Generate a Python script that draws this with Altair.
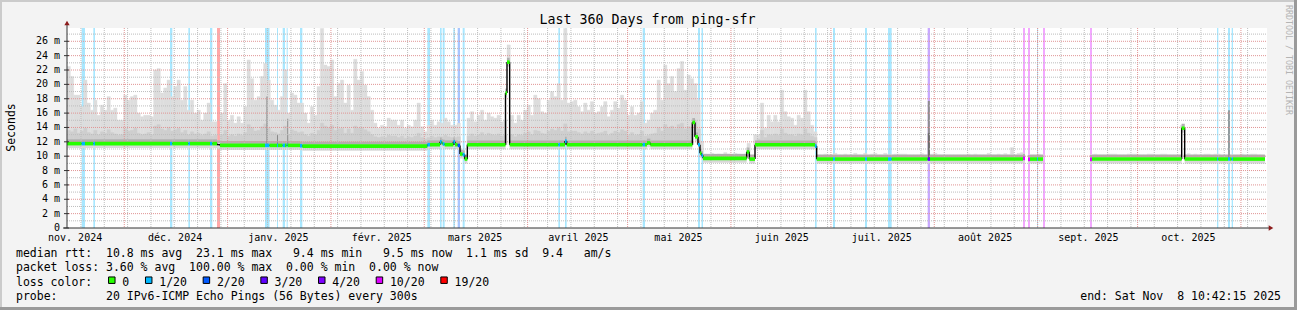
import altair as alt
import pandas as pd
from datetime import datetime, timedelta

# ------------------------------------------------------------------
# Data (x in days since the left edge of the
# 360-day window, y in milliseconds)
# ------------------------------------------------------------------
month_starts = ["2024-12-01", "2025-01-01", "2025-02-01", "2025-03-01", "2025-04-01", "2025-05-01",
                "2025-06-01", "2025-07-01", "2025-08-01", "2025-09-01", "2025-10-01", "2025-11-01"]
month_label_at = ["2024-11-16T06:00", "2024-12-16T06:00", "2025-01-16T06:00", "2025-02-16T06:00",
                  "2025-03-16T06:00", "2025-04-16T06:00", "2025-05-16T06:00", "2025-06-16T06:00",
                  "2025-07-16T06:00", "2025-08-16T06:00", "2025-09-16T06:00", "2025-10-16T06:00"]
month_labels = ["nov. 2024", "déc. 2024", "janv. 2025", "févr. 2025", "mars 2025", "avril 2025",
                "mai 2025", "juin 2025", "juil. 2025", "août 2025", "sept. 2025", "oct. 2025"]

loss_names = ["0", "1/20", "2/20", "3/20", "4/20", "10/20", "19/20"]
loss_colors = ["#26ff00", "#00b8ff", "#0059ff", "#5e00ff", "#7e00ff", "#dd00ff", "#ff0000"]

# daily maximum of the smoke (ms); None = no data
smoke_max = [
    22.5, 21.1, 18.5, 18.5, 16.9, 20.6, 17.4, 16.4, 17.8, 15.7,
    17.1, 16.4, 18.3, 16.4, 16.7, 15.0, 15.0, 18.5, 17.8, 18.3,
    18.5, 16.0, 15.5, 15.7, 15.7, 15.5, 22.0, 22.2, 18.8, 19.5,
    20.6, 18.3, 19.7, 20.6, 17.8, 19.7, 16.4, 17.8, 16.0, 16.4,
    15.0, 16.0, 17.4, 14.8, 14.8, None, 16.0, 20.1, 15.0, 15.7,
    14.6, 15.5, 14.6, 16.9, 23.4, 20.8, 17.8, 18.3, 21.1, 22.9,
    20.6, 17.8, 17.1, 16.4, 18.3, 22.0, 16.0, 18.8, 18.5, 17.4,
    17.4, 16.0, 14.6, 16.9, 15.7, 19.7, 27.8, 22.7, 22.5, 23.4,
    18.3, 20.1, 20.6, 17.4, 19.9, 16.4, 23.5, 20.6, 21.8, 19.9,
    18.3, 16.4, 14.6, 13.9, 14.3, 14.1, 15.3, 15.0, 15.0, 14.3,
    15.0, 13.9, 14.3, 14.1, 15.0, 17.4, 14.1, 13.4, 14.3, 15.0,
    14.3, 14.8, 14.6, 15.3, 14.8, 14.3, 14.3, 14.6, None, None,
    15.3, 16.2, 14.8, 15.7, 16.4, 15.0, 16.0, 15.5, 15.3, 15.7,
    14.8, 15.0, 25.5, 15.7, 14.6, 15.7, 15.0, 16.4, 17.1, 15.7,
    18.5, 18.0, 16.2, 16.0, 17.8, 19.0, 18.3, 20.1, 17.8, 27.8,
    17.4, 17.6, 17.8, 16.9, 16.2, 17.4, 16.4, 17.6, 16.0, 16.2,
    16.9, 17.6, 15.5, 16.4, 17.6, 16.7, 18.5, 17.8, 15.7, 16.9,
    15.7, 16.0, 17.6, 14.6, 15.0, 16.0, 16.4, 20.6, 17.8, 22.7,
    20.1, 21.1, 19.0, 22.2, 23.2, 19.2, 21.3, 20.8, 20.1, 17.8,
    12.0, 10.3, 10.2, 10.4, 10.2, 10.3, 10.2, 10.5, 10.3, 10.2,
    10.4, 10.3, 10.2, 10.3, 11.8, 10.2, 13.0, 13.0, 17.4, 13.9,
    15.7, 14.8, 15.7, 14.8, 19.2, 16.2, 15.5, 15.3, 14.3, 15.7,
    15.3, 19.2, 16.2, 14.3, 13.4, 10.2, 10.2, 10.3, 10.2, 10.2,
    10.4, 10.2, 10.2, 10.3, 10.2, 10.2, 10.4, 10.2, 10.2, 10.4,
    10.2, 10.3, 10.4, 10.2, 10.2, 10.4, 10.2, 10.2, 10.3, 10.3,
    10.3, 10.3, 10.2, 10.2, 10.2, 10.2, 10.35, 10.2, 10.2, 10.3,
    10.4, 10.2, 10.2, 10.2, 10.2, 10.2, 10.2, 10.2, 10.2, 10.2,
    10.3, 10.2, 10.3, 10.2, 10.2, 10.2, 10.4, 10.2, 10.2, 10.3,
    10.2, 10.35, 10.2, 11.2, 10.2, 10.4, 10.5, None, None, 10.2,
    10.2, 10.3, 10.2, None, None, None, None, None, None, None,
    None, None, None, None, None, None, None, 10.2, 10.3, 10.2,
    10.2, 10.2, 10.3, 10.3, 10.3, 10.2, 10.2, 10.2, 10.3, 10.3,
    10.3, 10.2, 10.2, 10.2, 10.3, 10.3, 10.2, 10.2, 10.3, 10.3,
    10.2, 10.2, 10.2, 10.2, 14.3, 10.2, 10.35, 10.2, 10.3, 10.2,
    10.2, 10.3, 10.3, 10.2, 10.3, 10.3, 10.2, 10.2, 10.2, 10.2,
    10.2, 10.2, 10.3, 10.2, 10.2, 10.3, 10.3, 10.2, 10.2, None,
]

# daily upper quartile of the smoke in the busy periods (ms)
smoke_q3 = [
    13.6, 13.4, 13.8, 13.2, 13.5, 13.9, 13.3, 13.1, 13.6, 13.0,
    13.4, 13.2, 13.7, 13.3, 13.1, 12.9, 13.0, 13.8, 13.5, 13.6,
    13.9, 13.2, 13.0, 13.1, 13.3, 13.0, 14.2, 14.4, 13.8, 13.6,
    14.0, 13.5, 13.7, 13.9, 13.3, 13.6, 13.0, 13.4, 13.1, 13.2,
    12.9, 13.1, 13.4, 12.8, 12.9, None, 13.0, 13.6, 12.8, 13.0,
    12.8, 13.1, 12.9, 13.3, 14.4, 14.0, 13.5, 13.6, 14.1, 14.5,
    14.0, 13.4, 13.3, 13.1, 13.6, 14.2, 13.0, 13.7, 13.5, 13.3,
    13.4, 13.0, 12.8, 13.2, 13.0, 13.6, 14.6, 14.2, 14.0, 14.3,
    13.6, 13.8, 13.9, 13.2, 13.8, 13.2, 14.2, 13.9, 14.0, 13.7,
    13.4, 13.0, 12.7, 12.6, 12.7, 12.6, 12.9, 12.8, 12.8, 12.6,
    12.8, 12.5, 12.7, 12.6, 12.8, 13.2, 12.6, 12.4, 12.6, 12.8,
    12.6, 12.7, 12.7, 12.9, 12.7, 12.6, 12.6, 12.7, None, None,
    12.8, 13.1, 12.8, 13.0, 13.3, 12.9, 13.2, 13.0, 12.9, 13.1,
    12.8, 12.9, None, 13.0, 12.7, 13.0, 12.9, 13.2, 13.4, 13.0,
    13.6, 13.5, 13.2, 13.1, 13.5, 13.8, 13.6, 14.0, 13.5, 14.5,
    13.4, 13.5, 13.5, 13.3, 13.1, 13.4, 13.2, 13.5, 13.1, 13.2,
    13.3, 13.5, 12.9, 13.2, 13.5, 13.3, 13.7, 13.5, 12.9, 13.3,
    12.9, 13.0, 13.5, 12.8, 12.9, 13.1, 13.2, 14.0, 13.5, 14.4,
    14.0, 14.2, 13.8, 14.4, 14.6, 13.8, 14.1, 14.0, 15.0, 13.8,
] + [None] * 17 + [
    12.4, 13.6, 12.6, 13.0, 12.9, 13.1, 12.9, 13.8, 13.2, 13.0,
    13.0, 12.8, 13.1, 13.0, 13.8, 13.2, 12.8, 12.6,
] + [None] * 135

# median rtt segments: start day, end day, value (ms), packet loss
med_start = [0.0, 4.4, 5.4, 7.9, 8.4, 30.9, 31.6, 36.4, 36.9, 42.9,
             43.6, 45.0, 45.9, 59.4, 60.75, 63.0, 63.3, 64.7, 65.4, 65.9,
             66.2, 69.9, 70.6, 108.1, 108.9, 111.9, 112.4, 112.7, 113.3, 115.9,
             116.4, 117.2, 117.9, 118.7, 119.3, 120.1, 131.55, 132.0, 132.8, 147.4,
             147.9, 149.4, 149.9, 172.7, 173.4, 174.0, 175.0, 187.6, 188.4, 189.3,
             189.9, 190.35, 190.8, 203.9, 204.7, 206.4, 224.4, 224.9, 229.8, 230.4,
             239.4, 240.0, 246.3, 247.4, 258.2, 258.9, 286.8, 288.3, 288.9, 291.0,
             291.3, 306.9, 307.5, 334.4, 335.3, 345.0, 345.4, 348.3, 348.9, 349.4,
             349.8]
med_end = [4.4, 5.4, 7.9, 8.4, 30.9, 31.6, 36.4, 36.9, 42.9, 43.6,
           45.0, 45.9, 59.4, 60.75, 63.0, 63.3, 64.7, 65.4, 65.9, 66.2,
           69.9, 70.6, 108.1, 108.9, 111.9, 112.4, 112.7, 113.3, 115.9, 116.4,
           117.2, 117.9, 118.7, 119.3, 120.1, 131.55, 132.0, 132.8, 147.4, 147.9,
           149.4, 149.9, 172.7, 173.4, 174.0, 175.0, 187.6, 188.4, 189.3, 189.9,
           190.35, 190.8, 203.9, 204.7, 206.4, 224.4, 224.9, 229.8, 230.4, 239.4,
           240.0, 246.3, 247.4, 258.2, 258.9, 286.8, 287.4, 288.9, 291.0, 291.3,
           292.8, 307.5, 334.4, 335.3, 345.0, 345.4, 348.3, 348.9, 349.4, 349.8,
           359.4]
med_value = [11.75, 11.75, 11.75, 11.75, 11.75, 11.75, 11.75, 11.75, 11.75, 11.75,
             11.75, 11.6, 11.5, 11.5, 11.5, 11.5, 11.5, 11.5, 11.5, 11.5,
             11.5, 11.45, 11.4, 11.6, 11.6, 12.0, 11.8, 11.7, 11.6, 12.0,
             11.6, 11.5, 10.3, 10.2, 9.6, 11.6, 18.8, 23.1, 11.6, 11.6,
             11.6, 12.1, 11.6, 11.6, 11.6, 11.85, 11.6, 14.7, 12.7, 11.6,
             10.4, 10.1, 9.7, 10.6, 9.6, 11.6, 11.4, 9.6, 9.6, 9.6,
             9.6, 9.6, 9.6, 9.6, 9.6, 9.6, 9.7, 9.55, 9.6, 9.6,
             9.6, 9.55, 9.6, 13.9, 9.6, 9.6, 9.6, 9.6, 9.6, 9.6,
             9.6]
med_loss = ["0", "1/20", "0", "1/20", "0", "1/20", "0", "1/20", "0", "1/20",
            "0", "19/20", "0", "1/20", "0", "1/20", "0", "1/20", "0", "1/20",
            "0", "1/20", "0", "1/20", "0", "1/20", "0", "1/20", "0", "1/20",
            "0", "2/20", "0", "1/20", "0", "0", "0", "0", "0", "1/20",
            "0", "1/20", "0", "1/20", "0", "0", "0", "0", "0", "1/20",
            "0", "1/20", "0", "0", "0", "0", "1/20", "0", "1/20", "0",
            "1/20", "0", "1/20", "0", "3/20", "0", "10/20", "10/20", "0", "1/20",
            "0", "10/20", "0", "0", "0", "1/20", "0", "1/20", "0", "1/20",
            "0"]

# packet-loss background bands
band_start = [4.4, 7.9, 30.9, 36.4, 42.9, 45.0, 59.4, 63.0, 64.7, 65.9,
              69.9, 108.1, 111.9, 112.7, 115.9, 117.2, 118.7, 147.4, 149.4, 172.7,
              189.3, 190.35, 224.4, 229.8, 239.4, 246.3, 258.2, 286.8, 288.3, 291.0,
              292.8, 306.9, 345.0, 348.3, 349.4]
band_end = [5.4, 8.4, 31.6, 36.9, 43.6, 45.9, 60.75, 63.3, 65.4, 66.2,
            70.6, 108.9, 112.4, 113.3, 116.4, 117.9, 119.3, 147.9, 149.9, 173.4,
            189.9, 190.8, 224.9, 230.4, 240.0, 247.4, 258.9, 287.4, 288.9, 291.3,
            293.4, 307.5, 345.4, 348.9, 349.8]
band_loss = (["1/20"] * 5 + ["19/20"] + ["1/20"] * 9 + ["2/20"] + ["1/20"] * 10 +
             ["3/20", "10/20", "10/20", "1/20", "10/20", "10/20", "1/20", "1/20", "1/20"])

# single dark smoke streaks
spike_start = [59.85, 63.05, 66.1, 258.25, 258.25, 348.35]
spike_end = [60.15, 63.3, 66.35, 258.85, 258.85, 348.85]
spike_top = [18.3, 13.0, 15.2, 17.7, 13.2, 16.4]
spike_kind = ["thin", "thin", "thin", "wide", "core", "wide"]

y_labels_at = list(range(0, 27, 2))
y_major = list(range(2, 27, 2))
y_minor = list(range(1, 28, 2))

title_text = "Last 360 Days from ping-sfr"
legend_rtt = "median rtt:  10.8 ms avg  23.1 ms max   9.4 ms min   9.5 ms now  1.1 ms sd  9.4   am/s"
legend_loss = "packet loss: 3.60 % avg  100.00 % max  0.00 % min  0.00 % now"
legend_probe = "probe:       20 IPv6-ICMP Echo Pings (56 Bytes) every 300s"
legend_end = "end: Sat Nov  8 10:42:15 2025"
watermark = "RRDTOOL / TOBI OETIKER"

# ------------------------------------------------------------------
assert len(smoke_max) == 360 and len(smoke_q3) == 360
assert len(med_start) == len(med_end) == len(med_value) == len(med_loss)
assert len(band_start) == len(band_end) == len(band_loss)

FONT = "DejaVu Sans Mono"
START = datetime(2024, 11, 13, 19, 40)
SPAN = 360.0
W, H = 1200, 200
YMAX = 27.85
CW = 6.92  # monospace advance of the legend font


def dayof(s):
    return (datetime.fromisoformat(s) - START).total_seconds() / 86400.0


def median_at(t):
    for s, e, v in zip(med_start, med_end, med_value):
        if s <= t < e:
            return v
    return None


xs = alt.Scale(domain=[0, SPAN], nice=False, zero=False)
ys = alt.Scale(domain=[0, YMAX], nice=False, zero=False)
loss_scale = alt.Scale(domain=loss_names, range=loss_colors)


def X(f):
    return alt.X(f + ":Q", scale=xs, axis=None)


def Y(f):
    return alt.Y(f + ":Q", scale=ys, axis=None)


seg = pd.DataFrame({"s": med_start, "e": med_end, "v": med_value, "loss": med_loss})
bands = pd.DataFrame({"s": band_start, "e": band_end, "loss": band_loss})

smoke_rows, q3_rows = [], []
for d in range(360):
    b = median_at(d + 0.5)
    if b is None:
        continue
    if smoke_max[d] is not None and smoke_max[d] > b:
        smoke_rows.append({"x0": d, "x1": d + 1, "lo": b, "hi": smoke_max[d]})
    if smoke_q3[d] is not None and smoke_q3[d] > b:
        q3_rows.append({"x0": d, "x1": d + 1, "lo": b, "hi": smoke_q3[d]})
smoke = pd.DataFrame(smoke_rows)
q3 = pd.DataFrame(q3_rows)

spikes = pd.DataFrame({
    "s": spike_start, "e": spike_end, "top": spike_top, "kind": spike_kind,
    "lo": [median_at((a + b) / 2) for a, b in zip(spike_start, spike_end)],
})

conn_rows = []
for i in range(len(med_start) - 1):
    if abs(med_end[i] - med_start[i + 1]) < 1e-9 and med_value[i] != med_value[i + 1]:
        conn_rows.append({"d": med_start[i + 1], "v0": med_value[i], "v1": med_value[i + 1]})
conn = pd.DataFrame(conn_rows)

weeks = []
w = datetime(2024, 11, 18)
while (w - START).total_seconds() / 86400.0 < SPAN:
    weeks.append((w - START).total_seconds() / 86400.0)
    w += timedelta(days=7)
vminor = pd.DataFrame({"d": weeks})
vmajor = pd.DataFrame({"d": [dayof(m) for m in month_starts]})
hminor = pd.DataFrame({"v": y_minor})
hmajor = pd.DataFrame({"v": y_major})
xlabels = pd.DataFrame({"d": [dayof(m) for m in month_label_at], "t": month_labels})
ylabels = pd.DataFrame({"v": y_labels_at,
                        "t": ["0" if v == 0 else f"{v}\u00a0m" for v in y_labels_at]})

layers = []

# loss background bands
layers.append(alt.Chart(bands).mark_rect(opacity=0.34).encode(
    x=X("s"), x2="e:Q", y=alt.value(0), y2=alt.value(H),
    color=alt.Color("loss:N", scale=loss_scale, legend=None)))

# light smoke (median .. max)
layers.append(alt.Chart(smoke).mark_rect(color="#dddddd", stroke="#dddddd", strokeWidth=0.4, clip=True).encode(
    x=X("x0"), x2="x1:Q", y=Y("hi"), y2="lo:Q"))

# light smoke just below the median
layers.append(alt.Chart(seg).mark_rule(color="#d8d8d8", strokeWidth=9).encode(
    x=X("s"), x2="e:Q", y=Y("v")))

# mid smoke (median .. upper quartile)
layers.append(alt.Chart(q3).mark_rect(color="#cecece", stroke="#cecece", strokeWidth=0.4).encode(
    x=X("x0"), x2="x1:Q", y=Y("hi"), y2="lo:Q"))

# dense smoke right above the median
layers.append(alt.Chart(seg).mark_rule(color="#b0b0b0", strokeWidth=2.6, yOffset=-3).encode(
    x=X("s"), x2="e:Q", y=Y("v")))

# isolated dark streaks
for kind, col in [("thin", "#7c7c7c"), ("wide", "#8e8e8e"), ("core", "#6c6c6c")]:
    layers.append(alt.Chart(spikes[spikes["kind"] == kind]).mark_rect(color=col).encode(
        x=X("s"), x2="e:Q", y=Y("top"), y2="lo:Q"))

# grid
layers.append(alt.Chart(vminor).mark_rule(color="#bdbdbd", strokeWidth=1, strokeDash=[1, 1]).encode(
    x=X("d"), y=alt.value(0), y2=alt.value(H)))
layers.append(alt.Chart(hminor).mark_rule(color="#bdbdbd", strokeWidth=1, strokeDash=[1, 1]).encode(
    y=Y("v"), x=alt.value(0), x2=alt.value(W)))
layers.append(alt.Chart(vmajor).mark_rule(color="#e09494", strokeWidth=1, strokeDash=[1, 1]).encode(
    x=X("d"), y=alt.value(0), y2=alt.value(H)))
layers.append(alt.Chart(hmajor).mark_rule(color="#e09494", strokeWidth=1, strokeDash=[1, 1]).encode(
    y=Y("v"), x=alt.value(0), x2=alt.value(W)))

# median: black trace and its jumps
layers.append(alt.Chart(seg).mark_rule(color="#000000", strokeWidth=1.2).encode(
    x=X("s"), x2="e:Q", y=Y("v")))
layers.append(alt.Chart(conn).mark_rule(color="#000000", strokeWidth=1.4).encode(
    x=X("d"), y=Y("v0"), y2="v1:Q"))

# median coloured by packet loss
layers.append(alt.Chart(seg[seg["loss"] != "19/20"]).mark_rule(strokeWidth=3.6).encode(
    x=X("s"), x2="e:Q", y=Y("v"),
    color=alt.Color("loss:N", scale=loss_scale, legend=None)))

# month labels
layers.append(alt.Chart(xlabels).mark_text(font=FONT, fontSize=10, align="center", baseline="alphabetic",
                                           color="#000000").encode(
    x=X("d"), y=alt.value(213), text="t:N"))

# value labels and ticks of the y axis
layers.append(alt.Chart(ylabels).mark_text(font=FONT, fontSize=10, align="right", baseline="middle",
                                           color="#000000").encode(
    y=Y("v"), x=alt.value(-7), text="t:N"))
layers.append(alt.Chart(ylabels).mark_rule(color="#333333", strokeWidth=1).encode(
    y=Y("v"), x=alt.value(-3), x2=alt.value(2)))

one = pd.DataFrame({"k": [0]})

# axes lines and arrows
layers.append(alt.Chart(one).mark_rule(color="#333333", strokeWidth=1).encode(
    x=alt.value(0), y=alt.value(H), y2=alt.value(-3)))
layers.append(alt.Chart(one).mark_rule(color="#333333", strokeWidth=1).encode(
    x=alt.value(-4), x2=alt.value(W + 3), y=alt.value(H)))
layers.append(alt.Chart(one).mark_point(shape="triangle-up", filled=True, size=28, color="#8c1c1c", opacity=1).encode(
    x=alt.value(0), y=alt.value(-5)))
layers.append(alt.Chart(one).mark_point(shape="triangle-right", filled=True, size=28, color="#8c1c1c", opacity=1).encode(
    x=alt.value(W + 4), y=alt.value(H)))


def text_layer(s, x, y, size, align="left", angle=0, color="#000000", baseline="alphabetic"):
    df = pd.DataFrame({"t": [s.replace(" ", "\u00a0")]})
    return alt.Chart(df).mark_text(font=FONT, fontSize=size, align=align, baseline=baseline,
                                   color=color, angle=angle).encode(
        x=alt.value(x), y=alt.value(y), text="t:N")


OX, OY = 67, 28  # plot origin in page pixels

layers.append(text_layer(title_text, 647.5 - OX, 24 - OY, 13.3, align="center"))
layers.append(text_layer("Seconds", 15 - OX, 127.5 - OY, 11.5, align="center", angle=270))
layers.append(text_layer(watermark, 1288.3 - OX, 5 - OY, 8.3, align="left", angle=90,
                         color="#b4b4b4", baseline="middle"))
layers.append(text_layer(legend_rtt, 16 - OX, 257.2 - OY, 11.5))
layers.append(text_layer(legend_loss, 16 - OX, 271.4 - OY, 11.5))
layers.append(text_layer("loss color:", 16 - OX, 285.6 - OY, 11.5))
layers.append(text_layer(legend_probe, 16 - OX, 299.8 - OY, 11.5))
layers.append(text_layer(legend_end, 1281 - OX, 299.8 - OY, 11.5, align="right"))

# loss colour legend: square + label, laid out with the monospace advance
sq_left = 108.3
for name, col in zip(loss_names, loss_colors):
    layers.append(alt.Chart(one).mark_square(size=42, filled=True, color=col, stroke="#000000",
                                             strokeWidth=1, opacity=1).encode(
        x=alt.value(sq_left + 3.5 - OX), y=alt.value(280.2 - OY)))
    layers.append(text_layer(name, sq_left + 14 - OX, 285.6 - OY, 11.5))
    sq_left = sq_left + 14 + len(name) * CW + 16

# 3-D frame of the image
layers.append(alt.Chart(one).mark_rule(color="#cbcbcb", strokeWidth=2).encode(
    x=alt.value(-OX), x2=alt.value(1297 - OX), y=alt.value(1 - OY)))
layers.append(alt.Chart(one).mark_rule(color="#cbcbcb", strokeWidth=2).encode(
    x=alt.value(1 - OX), y=alt.value(-OY), y2=alt.value(310 - OY)))
layers.append(alt.Chart(one).mark_rule(color="#9a9a9a", strokeWidth=3).encode(
    x=alt.value(-OX), x2=alt.value(1297 - OX), y=alt.value(308.5 - OY)))
layers.append(alt.Chart(one).mark_rule(color="#9a9a9a", strokeWidth=3).encode(
    x=alt.value(1295.5 - OX), y=alt.value(-OY), y2=alt.value(310 - OY)))

chart = alt.layer(*layers).properties(
    width=W, height=H,
    background="#f3f3f3",
    padding={"left": OX, "top": OY, "right": 1297 - OX - W, "bottom": 310 - OY - H},
    autosize=alt.AutoSizeParams(type="none"),
).configure_view(fill="#ffffff", strokeWidth=0)

chart.save("out.html", embed_options={"renderer": "svg", "actions": False})
